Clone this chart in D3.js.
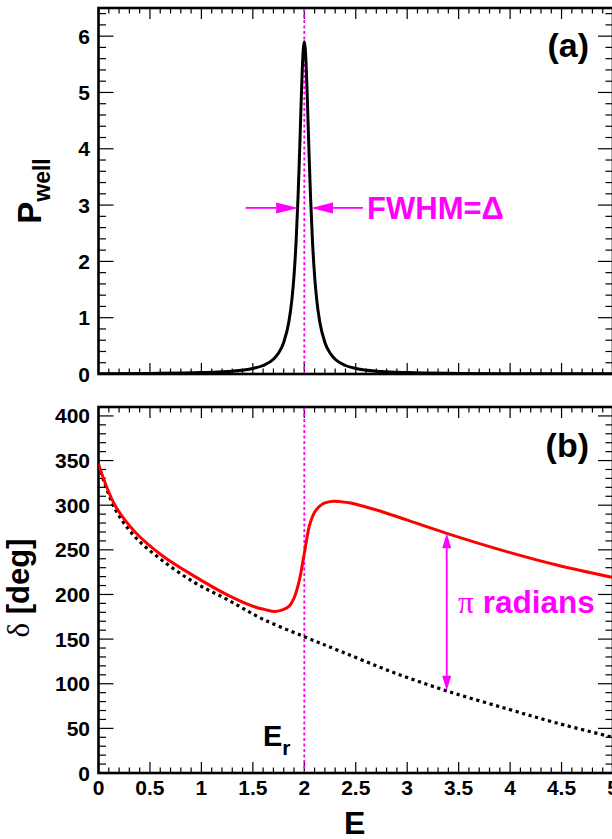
<!DOCTYPE html>
<html><head><meta charset="utf-8">
<script src="https://cdn.jsdelivr.net/npm/d3@7"></script>
<style>
html,body{margin:0;padding:0;background:#fff;}
svg{display:block;font-family:"Liberation Sans",Arial,Helvetica,sans-serif;font-weight:bold;}
</style></head>
<body>
<svg id="c" width="612" height="839"></svg>
<script>
// ---------- data ----------
const xTickValues = [0,0.5,1,1.5,2,2.5,3,3.5,4,4.5,5];
const xTickLabels = ["0","0.5","1","1.5","2","2.5","3","3.5","4","4.5","5"];
const yTicksA = [0,1,2,3,4,5,6];
const yTicksB = [0,50,100,150,200,250,300,350,400];

// panel (a): probability in well
const peakE = [0,0.5,1.0,1.25,1.5,1.6,1.7,1.75,1.8,1.85,1.88,1.9,1.92,1.94,1.95,1.96,1.97,1.98,1.99,2.0,2.01,2.02,2.03,2.04,2.05,2.06,2.08,2.1,2.12,2.15,2.2,2.25,2.3,2.4,2.5,2.75,3.0,3.5,4.0,4.5,5.0];
const peakP = [0.006,0.011,0.025,0.044,0.098,0.151,0.263,0.372,0.561,0.928,1.33,1.745,2.34,3.18,3.70,4.27,4.86,5.39,5.76,5.9,5.76,5.39,4.86,4.27,3.70,3.18,2.34,1.745,1.33,0.928,0.561,0.372,0.263,0.151,0.098,0.044,0.025,0.011,0.006,0.004,0.003];

// panel (b): phase shift with resonance (red) and background (dotted)
const phaseE   = [0,0.16,0.355,0.614,0.938,1.261,1.521,1.62,1.715,1.78,1.845,1.9,1.95,2.0,2.05,2.1,2.15,2.2,2.28,2.35,2.45,2.6,2.736,2.995,3.384,3.967,4.453,5.0];
const phaseDeg = [346,300,270,244,220,199,186,183,181,182.5,186,196,215,246,277,292,299,302.5,304.5,304,302.5,298,293.5,283.5,268.5,248,233,219];
const bgE   = [0,0.16,0.355,0.614,0.938,1.261,1.585,2.0,2.36,2.846,3.384,3.967,4.453,5.0];
const bgDeg = [345,296,264.5,238.6,213,193.8,173,152.7,136,113.5,92,72,56,40];

// annotations
const resE = 2.0;
const halfMax = 2.95;
const fwhmLeft = [1.43, 1.94];
const fwhmRight = [2.065, 2.57];
const piArrowE = 3.384;
const piArrowTop = 268.5, piArrowBot = 92;

// ---------- layout ----------
const svg = d3.select("#c");
svg.append("rect").attr("width",612).attr("height",839).attr("fill","#fff");
const X0 = 98.5, X1 = 613;
const pA = {top:8, bottom:374};
const pB = {top:407, bottom:773};
const x = d3.scaleLinear().domain([0,5]).range([X0,X1]);
const yA = d3.scaleLinear().domain([0,6.5]).range([pA.bottom,pA.top]);
const yB = d3.scaleLinear().domain([0,410]).range([pB.bottom,pB.top]);
const MAG = "#ff00ff";

function frame(y, p, yMajor, yMinorStep, yMax, id){
  const g = svg.append("g");
  svg.append("clipPath").attr("id",id).append("rect")
    .attr("x",X0).attr("y",p.top).attr("width",X1-X0).attr("height",p.bottom-p.top);
  const xMinor = d3.range(0,5.0001,0.1);
  xMinor.forEach(v=>{
    const major = Math.abs(v*2-Math.round(v*2))<1e-6;
    const L = major?11:5.5;
    const xx = x(v);
    g.append("line").attr("x1",xx).attr("x2",xx).attr("y1",p.bottom).attr("y2",p.bottom-L).attr("stroke","#000").attr("stroke-width",1.2);
    g.append("line").attr("x1",xx).attr("x2",xx).attr("y1",p.top).attr("y2",p.top+L).attr("stroke","#000").attr("stroke-width",1.2);
  });
  const yMinor = d3.range(0,yMax+1e-6,yMinorStep);
  yMinor.forEach(v=>{
    const major = yMajor.some(m=>Math.abs(m-v)<1e-6);
    const L = major?15:7.5;
    const yy = y(v);
    g.append("line").attr("x1",X0).attr("x2",X0+L).attr("y1",yy).attr("y2",yy).attr("stroke","#000").attr("stroke-width",1.2);
    g.append("line").attr("x1",X1).attr("x2",X1-L).attr("y1",yy).attr("y2",yy).attr("stroke","#000").attr("stroke-width",1.2);
  });
  yMajor.forEach(v=>{
    g.append("text").attr("x",90).attr("y",y(v)).attr("dy","0.36em")
      .attr("text-anchor","end").attr("font-size",21).text(String(v));
  });
  g.append("rect").attr("x",X0).attr("y",p.top).attr("width",X1-X0).attr("height",p.bottom-p.top)
    .attr("fill","none").attr("stroke","#000").attr("stroke-width",2.6);
  return g;
}

frame(yA, pA, yTicksA, 0.2, 6.5, "clipA");
frame(yB, pB, yTicksB, 10, 410, "clipB");

// x tick labels (bottom panel)
xTickValues.forEach((v,i)=>{
  svg.append("text").attr("x",x(v)).attr("y",795).attr("text-anchor","middle")
    .attr("font-size",21).text(xTickLabels[i]);
});

// resonance dashed lines
[pA,pB].forEach(p=>{
  svg.append("line").attr("x1",x(resE)).attr("x2",x(resE)).attr("y1",p.top+1).attr("y2",p.bottom-1)
    .attr("stroke",MAG).attr("stroke-width",1.8).attr("stroke-dasharray","3,2.5");
});

// peak curve
const lineA = d3.line().x(d=>x(d[0])).y(d=>yA(d[1])).curve(d3.curveMonotoneX);
svg.append("path").attr("clip-path","url(#clipA)")
  .attr("d",lineA(peakE.map((e,i)=>[e,peakP[i]])))
  .attr("fill","none").attr("stroke","#000").attr("stroke-width",3).attr("stroke-linejoin","round");

// phase curves
const lineB = d3.line().x(d=>x(d[0])).y(d=>yB(d[1])).curve(d3.curveCatmullRom.alpha(0.5));
svg.append("path").attr("clip-path","url(#clipB)")
  .attr("d",lineB(bgE.map((e,i)=>[e,bgDeg[i]])))
  .attr("fill","none").attr("stroke","#000").attr("stroke-width",3.2).attr("stroke-dasharray","3.2,3.6");
svg.append("path").attr("clip-path","url(#clipB)")
  .attr("d",lineB(phaseE.map((e,i)=>[e,phaseDeg[i]])))
  .attr("fill","none").attr("stroke","#ff0000").attr("stroke-width",3).attr("stroke-linejoin","round");

// FWHM arrows
const yh = yA(halfMax);
function hArrow(xFrom, xTip){
  const dir = Math.sign(xTip-xFrom);
  const hl = 22, hw = 5.5;
  svg.append("line").attr("x1",xFrom).attr("x2",xTip-dir*hl).attr("y1",yh).attr("y2",yh)
    .attr("stroke",MAG).attr("stroke-width",1.8);
  svg.append("path").attr("d",`M${xTip},${yh} L${xTip-dir*hl},${yh-hw} L${xTip-dir*hl},${yh+hw} Z`).attr("fill",MAG);
}
hArrow(x(fwhmLeft[0]), x(fwhmLeft[1]));
hArrow(x(fwhmRight[1]), x(fwhmRight[0]));
svg.append("text").attr("x",x(2.61)).attr("y",yh).attr("dy","0.36em")
  .attr("font-size",31).attr("fill",MAG).text("FWHM=Δ");

// pi arrow
const ax = x(piArrowE), yt = yB(piArrowTop), yb = yB(piArrowBot);
const vl = 15, vw = 4.5;
svg.append("line").attr("x1",ax).attr("x2",ax).attr("y1",yt+vl).attr("y2",yb-vl).attr("stroke",MAG).attr("stroke-width",1.8);
svg.append("path").attr("d",`M${ax},${yt} L${ax-vw},${yt+vl} L${ax+vw},${yt+vl} Z`).attr("fill",MAG);
svg.append("path").attr("d",`M${ax},${yb} L${ax-vw},${yb-vl} L${ax+vw},${yb-vl} Z`).attr("fill",MAG);
const pt = svg.append("text").attr("x",458).attr("y",613).attr("font-size",31.5).attr("fill",MAG);
pt.append("tspan").attr("font-family","'Liberation Serif','Times New Roman',serif").attr("font-weight","normal").text("π");
pt.append("tspan").text(" radians");

// panel labels
svg.append("text").attr("x",589).attr("y",57).attr("text-anchor","end").attr("font-size",34).text("(a)");
svg.append("text").attr("x",589).attr("y",457).attr("text-anchor","end").attr("font-size",34).text("(b)");

// E_r
const er = svg.append("text").attr("x",263).attr("y",746).attr("font-size",29);
er.append("tspan").text("E");
er.append("tspan").attr("font-size",21).attr("dy",9).text("r");

// axis titles
svg.append("text").attr("x",x(2.5)-1).attr("y",834).attr("text-anchor","middle").attr("font-size",32).text("E");
const ta = svg.append("text").attr("transform","translate(41,191) rotate(-90)").attr("text-anchor","middle").attr("font-size",33);
ta.append("tspan").text("P");
ta.append("tspan").attr("font-size",23).attr("dy",9).text("well");
const tb = svg.append("text").attr("transform","translate(29,588) rotate(-90)").attr("text-anchor","middle").attr("font-size",31);
tb.append("tspan").attr("font-family","'Liberation Serif','Times New Roman',serif").attr("font-weight","normal").text("δ");
tb.append("tspan").text(" [deg]");
</script>
</body></html>
